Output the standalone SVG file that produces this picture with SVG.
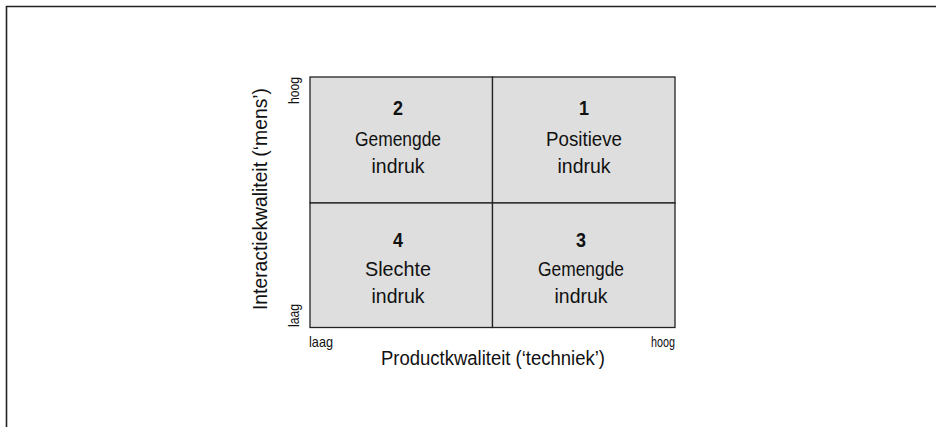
<svg xmlns="http://www.w3.org/2000/svg" width="936" height="427" viewBox="0 0 936 427">
<style>
text{font-family:"Liberation Sans",Arial,sans-serif;fill:#111;text-anchor:middle}
.q{font-size:21px}
.n{font-size:20px;font-weight:bold}
.ax{font-size:20px}
.sm{font-size:15px}
.cell{fill:#dedede;stroke:#222;stroke-width:1.3}
</style>
<rect width="936" height="427" fill="#fff"/>
<path d="M6.5,427 V6.5 H936" fill="none" stroke="#222" stroke-width="1.6"/>
<g id="q2"><rect class="cell" x="310" y="77" width="182.5" height="126"/>
<text class="n" x="398" y="115" textLength="10" lengthAdjust="spacingAndGlyphs">2</text>
<text class="q" x="398" y="146" textLength="86" lengthAdjust="spacingAndGlyphs">Gemengde</text>
<text class="q" x="398" y="172.5" textLength="53" lengthAdjust="spacingAndGlyphs">indruk</text></g>
<g id="q1"><rect class="cell" x="492.5" y="77" width="182.5" height="126"/>
<text class="n" x="584" y="115" textLength="10" lengthAdjust="spacingAndGlyphs">1</text>
<text class="q" x="584" y="146" textLength="76" lengthAdjust="spacingAndGlyphs">Positieve</text>
<text class="q" x="584" y="172.5" textLength="53" lengthAdjust="spacingAndGlyphs">indruk</text></g>
<g id="q4"><rect class="cell" x="310" y="203" width="182.5" height="124.5"/>
<text class="n" x="398" y="246.5" textLength="10" lengthAdjust="spacingAndGlyphs">4</text>
<text class="q" x="398" y="276" textLength="66" lengthAdjust="spacingAndGlyphs">Slechte</text>
<text class="q" x="398" y="302.5" textLength="53" lengthAdjust="spacingAndGlyphs">indruk</text></g>
<g id="q3"><rect class="cell" x="492.5" y="203" width="182.5" height="124.5"/>
<text class="n" x="581" y="246.5" textLength="10" lengthAdjust="spacingAndGlyphs">3</text>
<text class="q" x="581" y="276" textLength="86" lengthAdjust="spacingAndGlyphs">Gemengde</text>
<text class="q" x="581" y="302.5" textLength="53" lengthAdjust="spacingAndGlyphs">indruk</text></g>
<g id="axes">
<text class="ax" transform="translate(267,199) rotate(-90)" textLength="222" lengthAdjust="spacingAndGlyphs">Interactiekwaliteit (‘mens’)</text>
<text class="sm" style="text-anchor:start" transform="translate(299,104) rotate(-90)" textLength="27" lengthAdjust="spacingAndGlyphs">hoog</text>
<text class="sm" style="text-anchor:start" transform="translate(299,327) rotate(-90)" textLength="23" lengthAdjust="spacingAndGlyphs">laag</text>
<text class="sm" style="text-anchor:start" x="309" y="347" textLength="24" lengthAdjust="spacingAndGlyphs">laag</text>
<text class="sm" style="text-anchor:start" x="651" y="347" textLength="24" lengthAdjust="spacingAndGlyphs">hoog</text>
<text class="ax" x="493" y="365" textLength="224" lengthAdjust="spacingAndGlyphs">Productkwaliteit (‘techniek’)</text>
</g>
</svg>
